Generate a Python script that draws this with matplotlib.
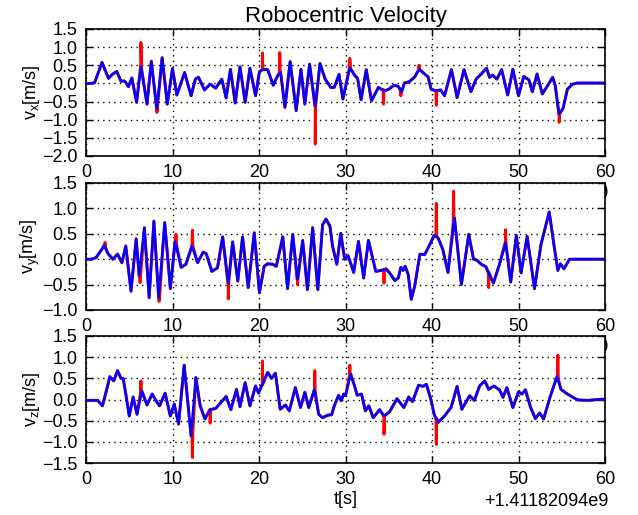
import matplotlib
matplotlib.use("Agg")
import matplotlib.pyplot as plt
from matplotlib.ticker import ScalarFormatter
import numpy as np

plt.rcParams['font.family'] = ['Liberation Sans', 'DejaVu Sans']
plt.rcParams['mathtext.fontset'] = 'custom'
plt.rcParams['mathtext.rm'] = 'Liberation Sans'
plt.rcParams['mathtext.default'] = 'regular'
plt.rcParams['axes.unicode_minus'] = True

T0 = 1411820940.0
title = "Robocentric Velocity"
ylabels = [r"v$_\mathregular{x}$[m/s]", r"v$_\mathregular{y}$[m/s]", r"v$_\mathregular{z}$[m/s]"]
xlabel = "t[s]"
xticks = [0, 10, 20, 30, 40, 50, 60]
yticks_x = [-2.0, -1.5, -1.0, -0.5, 0.0, 0.5, 1.0, 1.5]
yticks_y = [-1.0, -0.5, 0.0, 0.5, 1.0, 1.5]
yticks_z = [-1.5, -1.0, -0.5, 0.0, 0.5, 1.0, 1.5]

# ---- v_x (filtered, blue) ----
t_x = [0, 0.6, 1.0, 1.85, 2.6, 3.1, 3.55, 4.05, 4.4, 4.6, 4.9, 5.3, 5.85, 6.35, 7.05, 7.55,
       8.2, 8.8, 9.4, 10.0, 10.5, 11.4, 12.15, 12.65, 13.0, 13.7, 14.35, 15.0, 15.7, 16.2,
       16.7, 17.25, 17.8, 18.4, 18.95, 19.6, 20.05, 20.4, 21.0, 21.65, 22.15, 22.5, 23.0,
       23.6, 24.3, 24.85, 25.3, 25.85, 26.5, 27.05, 27.65, 28.3, 28.7, 29.25, 29.7, 30.5,
       31.1, 31.4, 31.8, 32.4, 33.0, 33.8, 34.15, 34.6, 35.0, 35.6, 36.1, 36.5, 36.8, 37.4,
       38.0, 38.55, 39.15, 39.55, 39.9, 40.4, 41.0, 41.45, 42.25, 42.9, 43.7, 44.5, 45.1,
       45.7, 46.3, 46.65, 47.0, 47.5, 48.05, 48.75, 49.35, 50.0, 50.6, 51.2, 51.6, 52.15,
       52.75, 53.4, 53.95, 54.25, 54.7, 55.15, 55.65, 56.25, 56.8, 60.0]
vx_est = [0, 0, 0.02, 0.58, 0.14, 0.26, 0.33, 0.06, 0.07, 0.03, -0.09, 0.15, -0.52, 0.46, -0.57, 0.61,
          -0.69, 0.71, -0.57, 0.41, -0.32, 0.30, -0.34, 0.12, 0.17, -0.18, -0.02, -0.13, 0.12, -0.40,
          0.39, -0.54, 0.46, -0.52, 0.42, -0.34, 0.32, 0.38, 0.38, -0.05, 0.21, 0.30, -0.66,
          0.60, -0.75, 0.39, -0.57, 0.53, -0.62, 0.55, 0.12, -0.11, -0.11, 0.25, -0.43, 0.43,
          0.21, 0.14, -0.45, 0.38, -0.48, -0.11, -0.16, -0.20, -0.16, -0.05, -0.08, -0.23, 0.01, 0.05,
          0.18, 0.39, 0.26, 0.18, -0.16, -0.20, -0.18, -0.34, 0.38, -0.39, 0.38, -0.23, 0.12,
          0.26, 0.42, 0.17, 0.23, 0.12, 0.38, -0.32, 0.39, -0.34, 0.19, 0.10, -0.23, 0.26,
          -0.29, -0.05, 0.17, -0.06, -0.84, -0.69, -0.16, -0.02, 0.01, 0.01]
# measured (red) spikes: time, base, peak
spk_t_x = [6.35, 8.2, 20.4, 22.4, 26.5, 30.5, 34.4, 36.4, 38.5, 40.5, 54.7]
spk_b_x = [0.46, -0.69, 0.38, 0.30, -0.62, 0.43, -0.18, -0.20, 0.38, -0.20, -0.84]
spk_p_x = [1.13, -0.80, 0.84, 0.85, -1.67, 0.69, -0.57, -0.34, 0.50, -0.60, -1.07]

# ---- v_y ----
t_y = [0, 0.6, 1.15, 1.85, 2.1, 2.5, 3.1, 3.65, 4.15, 4.6, 5.2, 5.8, 6.15, 6.75, 7.3, 7.85,
       8.4, 9.1, 9.75, 10.3, 11.0, 11.55, 12.25, 12.9, 13.55, 13.9, 14.55, 15.2, 15.8, 16.45,
       16.95, 17.55, 18.1, 18.75, 19.45, 20.05, 20.6, 21.0, 21.6, 22.0, 22.75, 23.3, 23.9,
       24.45, 25.05, 25.6, 26.2, 26.8, 27.35, 27.75, 28.2, 28.5, 29.0, 29.45, 29.9, 30.3,
       30.95, 31.5, 32.1, 32.65, 33.5, 34.15, 34.7, 35.1, 35.7, 36.1, 36.4, 36.65, 36.9,
       37.25, 37.6, 38.0, 38.6, 39.15, 39.75, 40.25, 40.7, 41.25, 41.85, 42.6, 43.4, 44.25,
       44.8, 45.2, 45.7, 46.25, 46.55, 47.1, 47.8, 48.5, 49.1, 49.75, 50.3, 51.0, 51.85,
       52.6, 53.55, 54.15, 54.55, 54.85, 55.25, 55.9, 60.0]
vy_est = [0, 0, 0.03, 0.20, 0.27, 0.12, 0.0, 0.10, -0.07, 0.26, -0.63, 0.40, -0.33, 0.62, -0.76, 0.75,
          -0.76, 0.72, -0.58, 0.35, -0.16, -0.10, 0.26, -0.07, 0.14, 0.11, -0.24, -0.17, 0.44, -0.47,
          0.34, -0.43, 0.44, -0.56, 0.52, -0.66, -0.14, -0.09, -0.10, -0.14, 0.44, -0.58, 0.49,
          -0.40, 0.37, -0.60, 0.62, -0.60, 0.68, 0.79, 0.65, 0.26, -0.10, 0.51, 0.0, 0.07,
          -0.26, 0.35, -0.37, 0.37, -0.24, -0.22, -0.19, -0.27, -0.42, -0.37, -0.16, -0.22, -0.14,
          -0.30, -0.79, -0.53, 0.10, 0.09, 0.29, 0.47, 0.42, 0.19, -0.26, 0.81, -0.50, 0.49,
          0.0, -0.02, -0.10, -0.15, -0.27, -0.47, -0.10, 0.32, -0.45, 0.47, -0.27, 0.45, -0.58,
          0.29, 0.93, 0.22, -0.22, -0.09, -0.19, 0.0, 0.0]
spk_t_y = [2.2, 6.25, 8.45, 10.4, 12.3, 16.45, 24.45, 34.45, 40.5, 42.5, 46.55, 48.5]
spk_b_y = [0.25, -0.35, -0.76, 0.30, 0.26, -0.47, -0.40, -0.21, 0.45, 0.70, -0.27, 0.32]
spk_p_y = [0.33, -0.46, -0.83, 0.49, 0.57, -0.78, -0.50, -0.47, 1.10, 1.34, -0.56, 0.58]

# ---- v_z ----
t_z = [0, 0.4, 1.35, 1.9, 2.4, 2.75, 3.2, 3.65, 4.05, 4.3, 4.6, 5.0, 5.45, 5.9, 6.45, 7.05,
       7.65, 8.1, 8.5, 9.15, 9.75, 10.2, 10.7, 11.35, 12.15, 12.7, 13.2, 13.75, 14.35, 15.0,
       15.6, 16.2, 16.75, 17.4, 17.8, 18.4, 18.95, 19.6, 19.95, 20.4, 21.0, 21.45, 21.9,
       22.45, 23.05, 23.5, 24.2, 24.8, 25.3, 25.75, 26.4, 26.9, 27.35, 27.95, 28.4, 28.7,
       29.2, 29.5, 29.8, 30.0, 30.6, 31.05, 31.35, 31.85, 32.3, 32.7, 33.2, 33.95, 34.45,
       35.1, 35.95, 36.75, 37.3, 37.75, 38.45, 38.95, 39.35, 39.85, 40.25, 40.7, 41.45,
       42.2, 42.9, 43.45, 44.35, 44.9, 45.5, 46.1, 46.55, 47.15, 47.8, 48.2, 48.65, 49.35,
       50.0, 50.4, 50.8, 51.4, 51.95, 52.45, 52.9, 53.7, 54.45, 54.9, 55.5, 56.3, 56.85,
       58.0, 60.0]
vz_est = [-0.02, -0.02, -0.02, -0.15, 0.24, 0.54, 0.44, 0.68, 0.50, 0.50, 0.13, -0.39, 0.06, -0.35, 0.20, -0.13,
          0.13, -0.03, -0.15, 0.15, -0.39, -0.11, -0.58, 0.81, -0.86, 0.52, -0.15, -0.46, -0.24, -0.21,
          -0.07, 0.07, -0.24, 0.24, -0.17, 0.40, -0.15, 0.32, 0.15, 0.36, 0.64, 0.50, 0.62,
          -0.23, -0.13, -0.27, 0.28, -0.19, 0.17, -0.19, 0.23, -0.35, -0.43, -0.37, -0.36, -0.15,
          0.10, -0.03, 0.13, 0.09, 0.60, 0.32, 0.10, 0.13, -0.27, -0.15, -0.43, -0.24, -0.39,
          -0.29, 0.02, -0.19, 0.06, -0.05, 0.34, 0.31, 0.36, 0.02, -0.35, -0.54, -0.39,
          -0.19, 0.31, -0.23, 0.09, -0.02, 0.32, 0.44, 0.24, 0.32, 0.23, 0.05, 0.28, -0.19,
          0.18, 0.13, 0.23, -0.19, -0.45, -0.32, -0.46, 0.09, 0.54, 0.24, 0.15, 0.05, -0.01,
          -0.02, 0.01]
spk_t_z = [6.35, 12.3, 14.35, 20.4, 26.45, 30.5, 34.45, 40.5, 54.55]
spk_b_z = [0.15, -0.80, -0.24, 0.36, 0.20, 0.55, -0.39, -0.45, 0.50]
spk_p_z = [0.44, -1.37, -0.56, 0.91, 0.68, 0.81, -0.82, -1.06, 1.05]


def measured(t, v, st, sb, sp, w=0.05):
    pts = list(zip(t, v))
    for a, b, c in zip(st, sb, sp):
        pts += [(a - w, b), (a, c), (a + w, b)]
    pts.sort(key=lambda p: p[0])
    return np.array([p[0] for p in pts]), np.array([p[1] for p in pts])


panels = [
    (t_x, vx_est, spk_t_x, spk_b_x, spk_p_x, (-2.0, 1.5), yticks_x),
    (t_y, vy_est, spk_t_y, spk_b_y, spk_p_y, (-1.0, 1.5), yticks_y),
    (t_z, vz_est, spk_t_z, spk_b_z, spk_p_z, (-1.5, 1.5), yticks_z),
]

W, H = 638, 515
fig = plt.figure(figsize=(W / 100, H / 100), dpi=100, facecolor='white')
left, right = 86 / W, 605 / W
tops = [29, 183, 336]
bots = [156, 310, 463]

for i, (t, v, st, sb, sp, ylim, yt) in enumerate(panels):
    ax = fig.add_axes([left, 1 - bots[i] / H, right - left, (bots[i] - tops[i]) / H])
    tm, vm = measured(t, v, st, sb, sp)
    ax.plot(T0 + tm, vm, color='r', lw=2.1, zorder=2,
            solid_joinstyle='round', solid_capstyle='round')
    ax.plot(T0 + np.array(t), v, color='b', lw=1.9, zorder=3,
            solid_joinstyle='round', solid_capstyle='round')
    ax.set_xlim(T0 + 0, T0 + 60)
    ax.set_ylim(*ylim)
    ax.set_xticks([T0 + x for x in xticks])
    ax.set_yticks(yt)
    fmt = ScalarFormatter(useOffset=T0)
    ax.xaxis.set_major_formatter(fmt)
    ax.tick_params(direction='in', top=True, right=True, labelsize=13,
                   length=5, width=1, pad=6)
    off = ax.xaxis.get_offset_text()
    off.set_fontsize(13)
    off.set_x(1.006)
    ax.grid(True, color='k', linestyle=(0, (1, 3)), linewidth=1.0)
    for s in ax.spines.values():
        s.set_linewidth(1.2)
    ax.set_ylabel(ylabels[i], fontsize=13, labelpad=0)
    if i == 0:
        ax.set_title(title, fontsize=16, pad=5)
    if i == 2:
        ax.set_xlabel(xlabel, fontsize=13, labelpad=2)

fig.savefig("out.png", dpi=100, facecolor='white')
